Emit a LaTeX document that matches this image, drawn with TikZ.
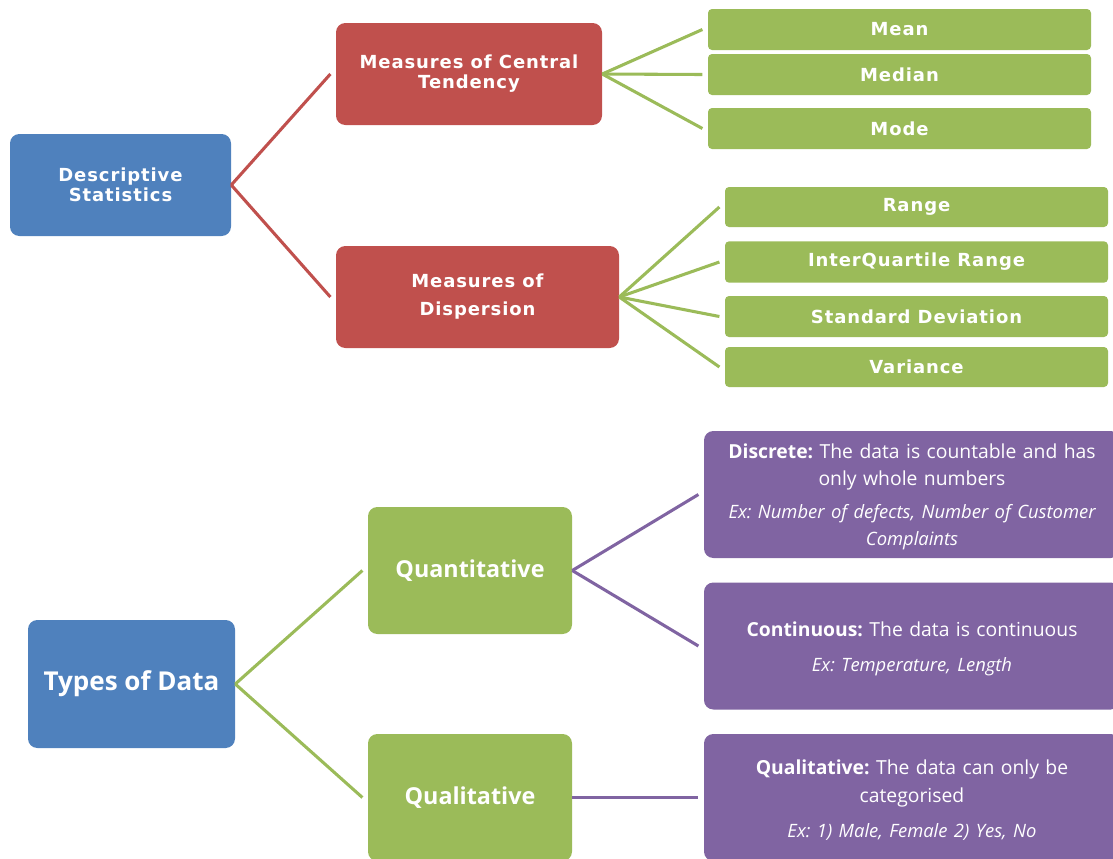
\documentclass[tikz,border=0pt]{standalone}
\usepackage{fontspec}
\setmainfont{Open Sans}
\newfontfamily\boxfont{DejaVu Sans}[LetterSpace=5]
\frenchspacing
\definecolor{tblue}{HTML}{4F81BD}
\definecolor{tred}{HTML}{C0504D}
\definecolor{tgreen}{HTML}{9BBB59}
\definecolor{tpurple}{HTML}{8064A2}
\tikzset{
  box/.style={rounded corners=7pt, text=white, align=center, inner sep=0pt},
  topbox/.style={box, font=\boxfont\bfseries\fontsize{13.5}{15}\selectfont},
  leafbox/.style={topbox, fill=tgreen, rounded corners=3pt, minimum width=287.25pt},
  typebox/.style={box, font=\bfseries\fontsize{17.5}{20}\selectfont},
  infobox/.style={box, fill=tpurple, minimum width=312pt, minimum height=95.25pt,
    text width=305pt, font=\fontsize{14.5}{20.5}\selectfont},
  link/.style={line width=2.3pt},
}
\newcommand{\exline}[1]{{\itshape\fontsize{13.8}{17.5}\selectfont #1}}
\newcommand{\topstrut}{\rule{0pt}{15pt}}
\begin{document}
\begin{tikzpicture}[x=0.75pt,y=-0.75pt]
  \useasboundingbox (0,0) rectangle (1113,858);
  % descriptive statistics
  \node[topbox, fill=tblue, minimum width=165.75pt, minimum height=76.5pt] (desc) at (120.5,185) {Descriptive\\Statistics};
  \node[topbox, fill=tred, minimum width=199.5pt, minimum height=76.5pt] (central) at (469,74) {Measures of Central\\Tendency};
  \node[topbox, fill=tred, minimum width=212.25pt, minimum height=76.5pt, font=\boxfont\bfseries\fontsize{13.5}{21}\selectfont] (disp) at (477.5,297) {Measures of\\Dispersion};
  \node[leafbox, minimum height=30.75pt] (mean) at (899.5,29.5) {Mean};
  \node[leafbox, minimum height=30.75pt] (median) at (899.5,74.5) {Median};
  \node[leafbox, minimum height=30.75pt] (mode) at (899.5,128.5) {Mode};
  \node[leafbox, minimum height=30pt] (range) at (916.5,207) {Range};
  \node[leafbox, minimum height=31pt] (iqr) at (916.5,262) {InterQuartile Range};
  \node[leafbox, minimum height=30.75pt] (sd) at (916.5,316.5) {Standard Deviation};
  \node[leafbox, minimum height=30pt] (var) at (916.5,367) {Variance};
  \foreach \t in {central,disp}
    \draw[link, tred] (desc.east) -- ([xshift=-4pt]\t.west);
  \foreach \t in {mean,median,mode}
    \draw[link, tgreen] (central.east) -- ([xshift=-4pt]\t.west);
  \foreach \t in {range,iqr,sd,var}
    \draw[link, tgreen] (disp.east) -- ([xshift=-4pt]\t.west);
  % types of data
  \node[typebox, fill=tblue, minimum width=155.25pt, minimum height=96pt, font=\bfseries\fontsize{19.5}{22}\selectfont] (types) at (131.5,684) {Types of Data};
  \node[typebox, fill=tgreen, minimum width=153pt, minimum height=95.25pt] (quant) at (470,570.5) {Quantitative};
  \node[typebox, fill=tgreen, minimum width=153pt, minimum height=95.25pt] (qual) at (470,797.5) {Qualitative};
  \node[infobox] (discrete) at (912,494.5) {\topstrut\textbf{Discrete:} The data is countable and has\\only whole numbers\\[7pt]
    \exline{Ex: Number of defects, Number of Customer\\Complaints}};
  \node[infobox] (contin) at (912,646) {\topstrut\textbf{Continuous:} The data is continuous\\[6pt]
    \exline{Ex: Temperature, Length}\\[10pt]};
  \node[infobox] (qualinfo) at (912,797.5) {\topstrut\textbf{Qualitative:} The data can only be\\categorised\\[6pt]
    \exline{Ex: 1) Male, Female 2) Yes, No}};
  \foreach \t in {quant,qual}
    \draw[link, tgreen] (types.east) -- ([xshift=-4pt]\t.west);
  \foreach \t in {discrete,contin}
    \draw[link, tpurple] (quant.east) -- ([xshift=-4pt]\t.west);
  \draw[link, tpurple] (qual.east) -- ([xshift=-4pt]qualinfo.west);
\end{tikzpicture}
\end{document}
